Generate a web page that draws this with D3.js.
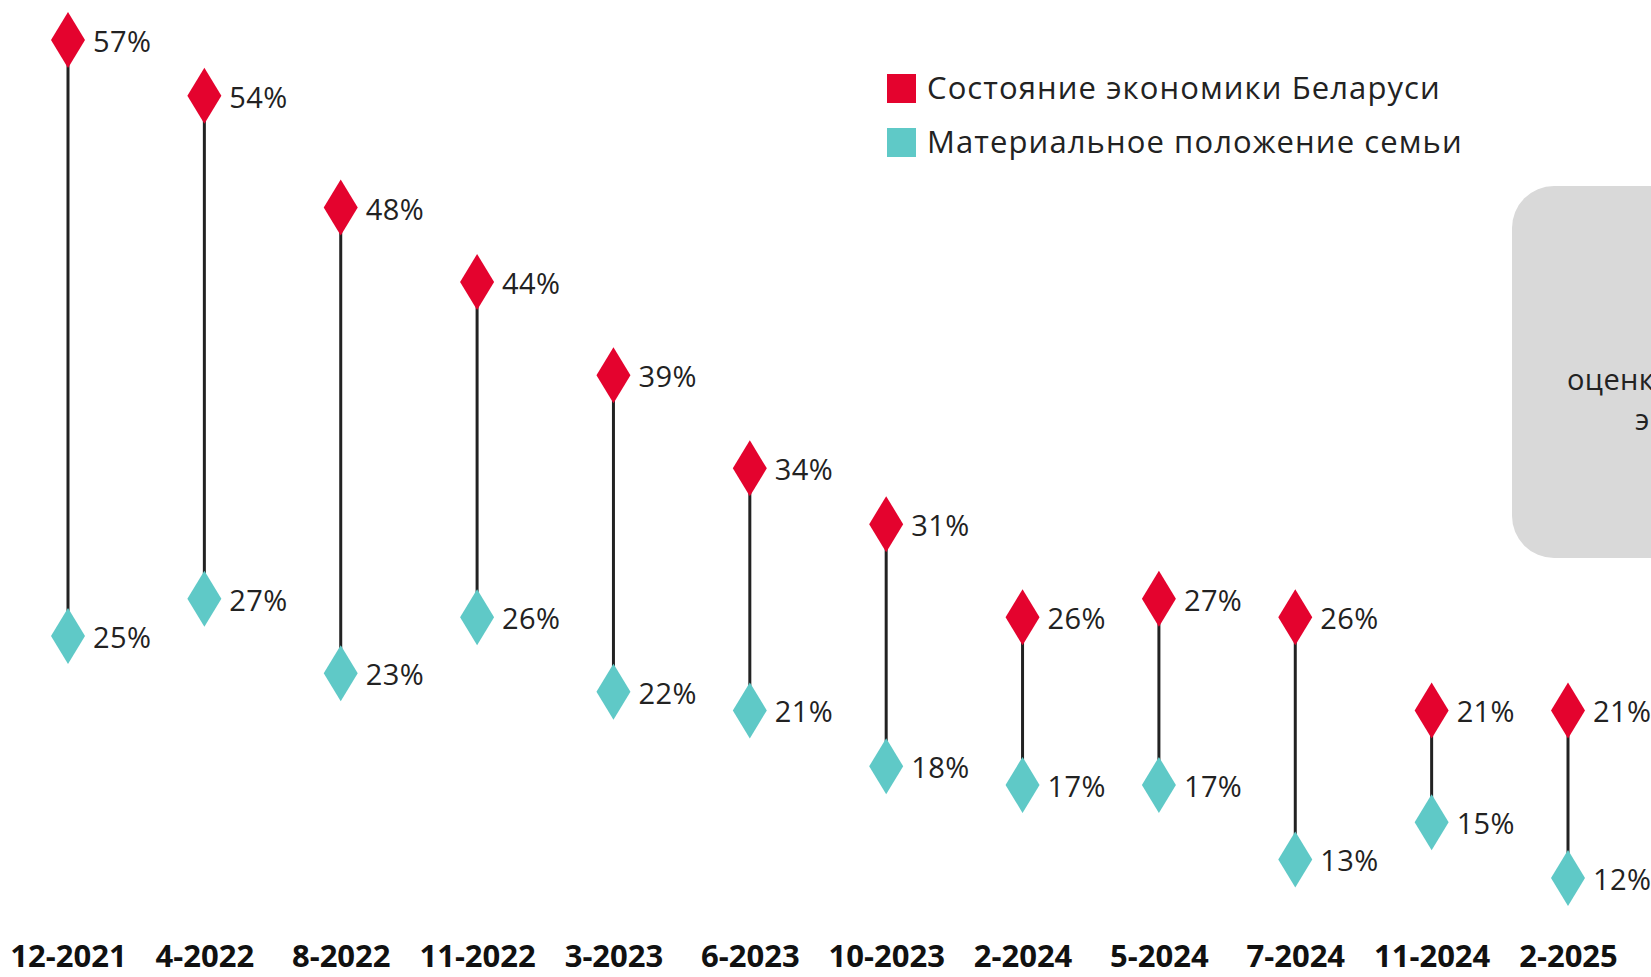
<!DOCTYPE html>
<html lang="ru">
  <head>
    <meta charset="UTF-8" />
    <title>Оценка экономики и положения семьи</title>
    <style>
      body { margin: 0; background: #fff; }
      svg { display: block; }
      .val { font-family: "Open Sans", sans-serif; font-size: 29px; fill: #222; letter-spacing: 0.4px; }
      .xaxis text { font-family: "Open Sans", sans-serif; font-weight: 700; font-size: 31px; fill: #111; }
      .legend text { font-family: "Open Sans", sans-serif; font-size: 31px; fill: #222; letter-spacing: 1.1px; }
    </style>
  </head>

  <body>
    <script src="https://cdn.jsdelivr.net/npm/d3@7"></script>

    <script>
    // survey waves
    var waves = ["12-2021", "4-2022", "8-2022", "11-2022", "3-2023", "6-2023",
                 "10-2023", "2-2024", "5-2024", "7-2024", "11-2024", "2-2025"];
    // Состояние экономики Беларуси
    var economy = [57, 54, 48, 44, 39, 34, 31, 26, 27, 26, 21, 21];
    // Материальное положение семьи
    var family = [25, 27, 23, 26, 22, 21, 18, 17, 17, 13, 15, 12];

    var seriesNames = ["Состояние экономики Беларуси", "Материальное положение семьи"];
    var colors = ["#e4032e", "#5fc9c7"];

    var width = 1651;
    var height = 977;

    var svg = d3.select("body")
                .append("svg")
                .attr("width", width)
                .attr("height", height);

    var xScale = d3.scalePoint()
                   .domain(waves)
                   .range([68, 1568]);

    var yScale = d3.scaleLinear()
                   .domain([12, 57])
                   .range([878, 40]);

    // grey note box on the right (cut off by the frame)
    svg.append("rect")
       .attr("x", 1512)
       .attr("y", 186)
       .attr("width", 260)
       .attr("height", 372)
       .attr("rx", 42)
       .attr("fill", "#d9d9d9");

    svg.append("text")
       .attr("class", "val")
       .attr("x", 1567)
       .attr("y", 390)
       .text("оценка");
    svg.append("text")
       .attr("class", "val")
       .attr("x", 1635)
       .attr("y", 430)
       .text("экономики");

    var rows = waves.map(function(w, i) {
      return { wave: w, economy: economy[i], family: family[i] };
    });

    // stems
    svg.selectAll(".stem")
       .data(rows)
       .enter().append("line")
       .attr("class", "stem")
       .attr("x1", function(d) { return xScale(d.wave); })
       .attr("x2", function(d) { return xScale(d.wave); })
       .attr("y1", function(d) { return yScale(d.economy); })
       .attr("y2", function(d) { return yScale(d.family); })
       .attr("stroke", "#222")
       .attr("stroke-width", 3);

    var dw = 17, dh = 28;
    function diamond(cx, cy) {
      return "M" + cx + "," + (cy - dh) + "L" + (cx + dw) + "," + cy +
             "L" + cx + "," + (cy + dh) + "L" + (cx - dw) + "," + cy + "Z";
    }

    ["economy", "family"].forEach(function(key, k) {
      svg.selectAll(".pt-" + key)
         .data(rows)
         .enter().append("path")
         .attr("class", "pt-" + key)
         .attr("d", function(d) { return diamond(xScale(d.wave), yScale(d[key])); })
         .attr("fill", colors[k]);

      svg.selectAll(".lbl-" + key)
         .data(rows)
         .enter().append("text")
         .attr("class", "val")
         .attr("x", function(d) { return xScale(d.wave) + 25; })
         .attr("y", function(d) { return yScale(d[key]) + 12; })
         .text(function(d) { return d[key] + "%"; });
    });

    // x axis labels
    var xAxis = d3.axisBottom(xScale).tickSize(0).tickPadding(0);
    var gx = svg.append("g")
                .attr("class", "xaxis")
                .attr("transform", "translate(0,945)")
                .call(xAxis);
    gx.select(".domain").remove();
    gx.selectAll("text").attr("dy", "0.71em").attr("y", 0);

    // legend
    var legend = svg.append("g").attr("class", "legend");
    seriesNames.forEach(function(name, i) {
      legend.append("rect")
            .attr("x", 887)
            .attr("y", 74 + i * 54)
            .attr("width", 29)
            .attr("height", 29)
            .attr("fill", colors[i]);
      legend.append("text")
            .attr("x", 927)
            .attr("y", 99 + i * 54)
            .text(name);
    });
    </script>
  </body>
</html>
